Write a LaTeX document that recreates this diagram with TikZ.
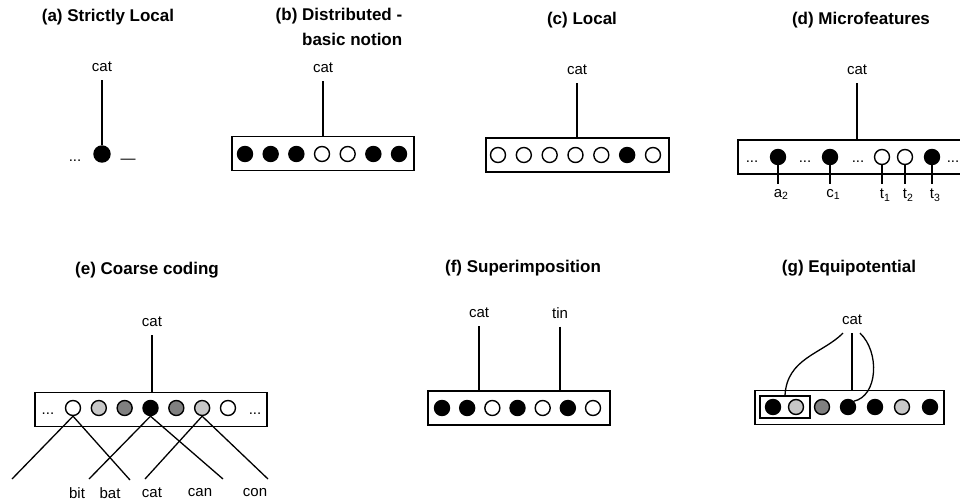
\documentclass[tikz,border=0pt]{standalone}
\usepackage{fontspec}
\setmainfont{Liberation Sans}
\definecolor{lightg}{gray}{0.78}
\definecolor{midg}{gray}{0.5}
\begin{document}
\begin{tikzpicture}[x=1pt,y=-1pt,
  ttl/.style={font=\fontsize{17}{25}\selectfont\bfseries, inner sep=0pt},
  lbl/.style={font=\fontsize{15}{17}\selectfont, inner sep=2pt},
  unitbase/.style={circle, draw, line width=1.4pt, minimum size=15pt, inner sep=0pt},
  uB/.style={unitbase, fill=black},
  uW/.style={unitbase, fill=white},
  uL/.style={unitbase, fill=lightg},
  uM/.style={unitbase, fill=midg},
  rowbox/.style={draw, line width=1.7pt, inner sep=0pt, minimum height=34pt},
  wire/.style={line width=1.3pt},
  feed/.style={wire, shorten <=6pt},
  ell/.style={font=\fontsize{15}{16}\selectfont, inner sep=0pt, anchor=base}
]
\useasboundingbox (0,0) rectangle (960,500);

% (a)
\node[ttl] (ta) at (108,17) {(a) Strictly Local};
\node[lbl] (acat) at (102,67) {cat};
\node[uB, minimum size=16pt] (a1) at (102,154) {};
\node[ell] (al) at (75,161) {...};
\node[ell] (ar) at (128,163) {—};
\draw[feed] (acat) -- (a1);

% (b)
\node[ttl, align=right] (tb) at (339,27) {(b) Distributed -\\basic notion};
\node[lbl] (bcat) at (323,68) {cat};
\node[rowbox, minimum width=182pt] (bbox) at (323,153.5) {};
\foreach \s [count=\i] in {uB,uB,uB,uW,uW,uB,uB}
  \node[\s] (b\i) at ({245+25.67*(\i-1)},154) {};
\draw[feed] (bcat) -- (bcat |- bbox.north);

% (c)
\node[ttl] (tc) at (582,20) {(c) Local};
\node[lbl] (ccat) at (577,70) {cat};
\node[rowbox, minimum width=183pt] (cbox) at (577.5,155) {};
\foreach \s [count=\i] in {uW,uW,uW,uW,uW,uB,uW}
  \node[\s] (c\i) at ({498+25.83*(\i-1)},155) {};
\draw[feed] (ccat) -- (ccat |- cbox.north);

% (d)
\node[ttl] (td) at (861,20) {(d) Microfeatures};
\node[lbl] (dcat) at (857,70) {cat};
\node[rowbox, minimum width=230pt] (dbox) at (853,157) {};
\node[ell] (dd1) at (752,162) {...};
\node[uB] (d1) at (778,157) {};
\node[ell] (dd2) at (805,162) {...};
\node[uB] (d2) at (830,157) {};
\node[ell] (dd3) at (858,162) {...};
\node[uW] (d3) at (882,157) {};
\node[uW] (d4) at (905,157) {};
\node[uB] (d5) at (932,157) {};
\node[ell] (dd4) at (953,162) {...};
\draw[feed] (dcat) -- (dcat |- dbox.north);
\node[lbl, anchor=north, inner sep=0pt] (da) at (778,189) {a\rlap{\textsubscript{2}}};
\node[lbl, anchor=north, inner sep=0pt] (dc) at (830,189) {c\rlap{\textsubscript{1}}};
\node[lbl, anchor=north, inner sep=0pt] (dt1) at (882,189) {t\rlap{\textsubscript{1}}};
\node[lbl, anchor=north, inner sep=0pt] (dt2) at (905,189) {t\rlap{\textsubscript{2}}};
\node[lbl, anchor=north, inner sep=0pt] (dt3) at (932,189) {t\rlap{\textsubscript{3}}};
\foreach \a/\b in {d1/da,d2/dc,d3/dt1,d4/dt2,d5/dt3}
  \draw[wire, shorten >=5pt] (\a) -- (\a |- \b.north);

% (e)
\node[ttl] (te) at (147,270) {(e) Coarse coding};
\node[lbl] (ecat) at (152,322) {cat};
\node[rowbox, minimum width=232pt] (ebox) at (151,409.5) {};
\node[ell] (ed1) at (48,414) {...};
\foreach \s [count=\i] in {uW,uL,uM,uB,uM,uL,uW}
  \node[\s] (e\i) at ({73+25.83*(\i-1)},408) {};
\node[ell] (ed2) at (255,414) {...};
\draw[feed] (ecat) -- (ecat |- ebox.north);
\coordinate (eE1) at (12,479);
\coordinate (eE2) at (130,480);
\coordinate (eE3) at (89,479);
\coordinate (eE4) at (223,479);
\coordinate (eE5) at (145,479);
\coordinate (eE6) at (268,479);
\draw[wire] (e1.south) -- (eE1);
\draw[wire] (e1.south) -- (eE2);
\draw[wire] (e4.south) -- (eE3);
\draw[wire] (e4.south) -- (eE4);
\draw[wire] (e6.south) -- (eE5);
\draw[wire] (e6.south) -- (eE6);
\node[lbl] (wbit) at (77,493) {bit};
\node[lbl] (wbat) at (110,493) {bat};
\node[lbl] (wcat) at (152,493) {cat};
\node[lbl] (wcan) at (200,493) {can};
\node[lbl] (wcon) at (255,493) {con};

% (f)
\node[ttl] (tf) at (523,268) {(f) Superimposition};
\node[lbl] (fcat) at (479,313) {cat};
\node[lbl] (ftin) at (560,313) {tin};
\node[rowbox, minimum width=182pt] (fbox) at (519,408) {};
\foreach \s [count=\i] in {uB,uB,uW,uB,uW,uB,uW}
  \node[\s] (f\i) at ({442+25.17*(\i-1)},408) {};
\draw[feed] (fcat) -- (fcat |- fbox.north);
\draw[feed] (ftin) -- (ftin |- fbox.north);

% (g)
\node[ttl] (tg) at (849,268) {(g) Equipotential};
\node[lbl] (gcat) at (852,320) {cat};
\node[rowbox, minimum width=189pt] (gbox) at (849.5,407.5) {};
\node[draw, line width=1.3pt, minimum width=50pt, minimum height=22pt, inner sep=0pt] (gin) at (785,407) {};
\foreach \s/\x [count=\i] in {uB/773,uL/796,uM/822,uB/848,uB/875,uL/902,uB/930}
  \node[\s] (g\i) at (\x,407) {};
\draw[wire] ([xshift=-9pt,yshift=-6pt]gcat.south) .. controls (822,354) and (787,358) .. (gin.north);
\draw[wire] ([yshift=-6pt]gcat.south) -- (gcat.south |- gbox.north);
\draw[wire] ([xshift=8pt,yshift=-6pt]gcat.south) .. controls (880,352) and (878,396) .. (g4.north east);
\end{tikzpicture}
\end{document}
